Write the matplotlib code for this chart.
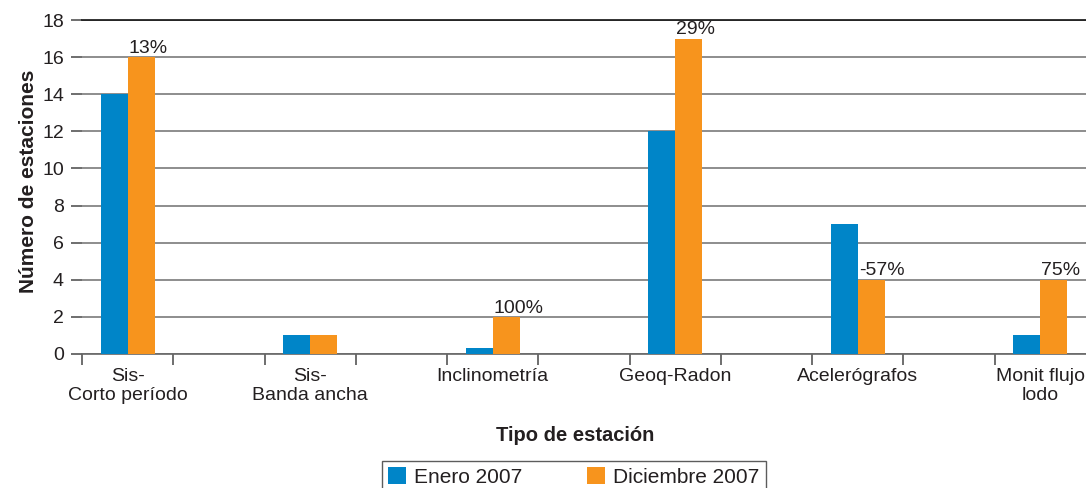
import numpy as np
import matplotlib
matplotlib.use("Agg")
import matplotlib.pyplot as plt

plt.rcParams["font.family"] = ["Liberation Sans", "DejaVu Sans"]

# data
categorias = ["Sis-\nCorto período", "Sis-\nBanda ancha", "Inclinometría",
              "Geoq-Radon", "Acelerógrafos", "Monit flujo\nlodo"]
enero_2007 = [14, 1, 0.3, 12, 7, 1]
diciembre_2007 = [16, 1, 2, 17, 4, 4]
variacion = ["13%", "", "100%", "29%", "-57%", "75%"]

AZUL = "#0085c8"
NARANJA = "#f7941d"
TXT = "#231f20"

fig = plt.figure(figsize=(10.86, 4.88), dpi=100)
ax = fig.add_axes([0.0755, 0.2746, 0.9245, 0.6844])

x = np.arange(len(categorias)) * 2
w = 0.296

ax.bar(x - w / 2, enero_2007, width=w, color=AZUL, label="Enero 2007", zorder=3)
ax.bar(x + w / 2, diciembre_2007, width=w, color=NARANJA, label="Diciembre 2007", zorder=3)

# percentage labels above orange bars
for xi, v, t in zip(x, diciembre_2007, variacion):
    if t:
        ax.text(xi + 0.01, v + 0.02, t, ha="left", va="bottom",
                fontsize=14, color=TXT, zorder=4)

ax.set_xlim(-0.5, 10.5)
ax.set_ylim(0, 18)
ax.set_yticks(np.arange(0, 19, 2))
ax.grid(axis="y", color="#7a7a7a", lw=1.2, zorder=0)

# category labels without tick marks, boundary ticks as minor
ax.set_xticks(x, categorias)
ax.set_xticks(np.arange(-0.5, 10, 1), minor=True)
ax.tick_params(axis="x", which="major", length=0, pad=10, labelsize=14, labelcolor=TXT)
ax.tick_params(axis="x", which="minor", length=8, width=1.2, color="#555555")
ax.tick_params(axis="y", length=8, width=1.2, color="#555555", pad=5,
               labelsize=14, labelcolor=TXT)

for s in ["left", "right"]:
    ax.spines[s].set_visible(False)
ax.spines["top"].set_color("#111111")
ax.spines["top"].set_linewidth(1.2)
ax.spines["bottom"].set_color("#666666")
ax.spines["bottom"].set_linewidth(1.2)

ax.set_ylabel("Número de estaciones", fontsize=15, weight="bold", color=TXT)
ax.yaxis.set_label_coords(-0.044, 0.518)
ax.set_xlabel("Tipo de estación", fontsize=14.5, weight="bold", color=TXT)
ax.xaxis.set_label_coords(0.491, -0.215)

leg = fig.legend(loc="upper center", bbox_to_anchor=(0.5285, 0.056), ncol=2,
                 fontsize=15, frameon=True, fancybox=False, edgecolor="#333333",
                 handlelength=0.87, handleheight=0.87, columnspacing=3.1,
                 handletextpad=0.38, borderpad=0.3, borderaxespad=0)
leg.get_frame().set_linewidth(1.0)
for t in leg.get_texts():
    t.set_color(TXT)

fig.savefig("out.png", dpi=100)
